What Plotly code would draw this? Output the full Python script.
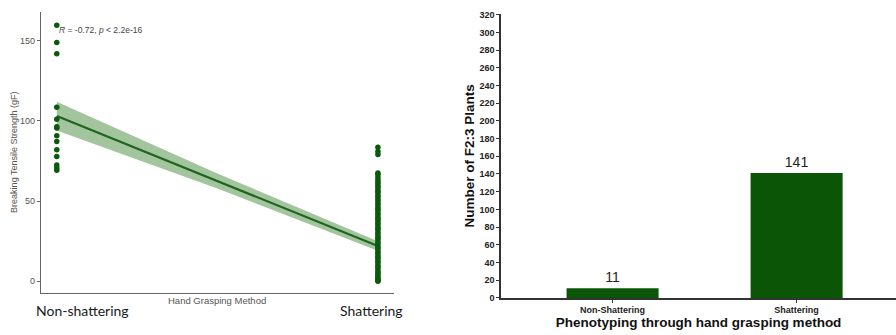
import plotly.graph_objects as go

# Scatter: breaking tensile strength (gF) by hand-grasping class
non_shattering_gf = [159.6, 148.9, 141.8, 108.5, 101, 96.4, 95.5, 90.7, 87.1, 82, 77.8, 72.5, 70.7, 69.3]
shattering_gf = [83.5, 81, 79, 67.5, 66.8, 65, 63.5, 62, 61, 59.5, 58.5, 57, 56, 55.2, 53.5, 52.5, 51,
                 50, 48.5, 47.5, 46, 45, 44, 42.5, 41.5, 40, 39, 38, 36.5, 35.5, 34, 33, 32, 30.5, 29.5,
                 28, 27, 26, 24.5, 23.5, 22, 21, 20, 18.5, 17.5, 16, 15, 14, 12.5, 11.5, 10, 9, 8, 6.5,
                 5.5, 4.5, 3.5, 2.5, 1.5, 1, 0.5, 0]

# Linear fit with 95% confidence band, at class positions 0, 0.5, 1
fit_x = [0, 0.5, 1]
fit_y = [103, 62.5, 22]
fit_lo = [94, 57.8, 19]
fit_hi = [112, 67.2, 25]

strength_ticks = [0, 50, 100, 150]
class_labels = ["Non-shattering", "Shattering"]
stat_text = "<i>R</i> = -0.72, <i>p</i> < 2.2e-16"

# Bar chart: counts of F2:3 plants per phenotype
phenotypes = ["Non-Shattering", "Shattering"]
plant_counts = [11, 141]

GREEN_DOT = "#0b5a0b"
GREEN_LINE = "#216421"
BAND = "rgba(88,150,78,0.55)"
BAR = "#0b5507"

fig = go.Figure()

fig.add_trace(go.Scatter(x=fit_x, y=fit_hi, mode="lines", line=dict(width=0),
                         hoverinfo="skip", showlegend=False, xaxis="x", yaxis="y"))
fig.add_trace(go.Scatter(x=fit_x, y=fit_lo, mode="lines", line=dict(width=0),
                         fill="tonexty", fillcolor=BAND,
                         hoverinfo="skip", showlegend=False, xaxis="x", yaxis="y"))
fig.add_trace(go.Scatter(x=fit_x, y=fit_y, mode="lines", line=dict(color=GREEN_LINE, width=2.2),
                         showlegend=False, xaxis="x", yaxis="y"))
fig.add_trace(go.Scatter(x=[0] * len(non_shattering_gf) + [1] * len(shattering_gf),
                         y=non_shattering_gf + shattering_gf, mode="markers",
                         marker=dict(color=GREEN_DOT, size=5.5),
                         showlegend=False, xaxis="x", yaxis="y"))

fig.add_trace(go.Bar(x=[0, 1], y=plant_counts, width=0.5, marker=dict(color=BAR, line=dict(width=0)),
                     text=[str(v) for v in plant_counts], textposition="outside",
                     textfont=dict(family="Liberation Sans", size=14, color="#222"),
                     cliponaxis=False, showlegend=False, xaxis="x2", yaxis="y2"))

fig.update_layout(
    width=896, height=335,
    margin=dict(l=0, r=0, t=0, b=0),
    paper_bgcolor="white", plot_bgcolor="white",
    font=dict(family="Liberation Sans", color="#444"),
    xaxis=dict(domain=[0.0458, 0.4397], range=[-0.049, 1.05], anchor="y",
               showgrid=False, zeroline=False,
               showline=True, linecolor="#666", linewidth=1.2, showticklabels=False, ticks=""),
    yaxis=dict(domain=[0.1134, 0.976], range=[-7.3, 168], anchor="x",
               showgrid=False, zeroline=False,
               showline=True, linecolor="#666", linewidth=1.2, ticks="outside", ticklen=3,
               tickcolor="#666", tickvals=strength_ticks, tickfont=dict(size=9, color="#555")),
    xaxis2=dict(domain=[0.5592, 1.0], range=[-0.606, 1.54], anchor="y2",
                showgrid=False, zeroline=False,
                showline=True, linecolor="#333", linewidth=1.5, ticks="outside", ticklen=3,
                tickcolor="#333", tickvals=[0, 1], ticktext=["<b>%s</b>" % p for p in phenotypes],
                tickfont=dict(size=9, color="#222", family="Liberation Sans"),
                title=dict(text="<b>Phenotyping through hand grasping method</b>", standoff=1,
                           font=dict(size=13.5, color="#111"))),
    yaxis2=dict(domain=[0.0985, 0.970], range=[0, 321], anchor="x2",
                showgrid=False, zeroline=False,
                showline=True, linecolor="#333", linewidth=1.5, ticks="outside", ticklen=3,
                tickcolor="#333", dtick=20, tickfont=dict(size=9, color="#222"),
                tickprefix="<b>", ticksuffix="</b>",
                title=dict(text="<b>Number of F2:3 Plants</b>", standoff=2,
                           font=dict(size=13.5, color="#111"))),
)

annotations = [
    dict(text=stat_text, x=57, y=27, xanchor="left",
         font=dict(size=8.5, color="#444")),
    dict(text="Breaking Tensile Strength (gF)", x=14, y=153, textangle=-90,
         font=dict(size=9, color="#555")),
    dict(text="Hand Grasping Method", x=217, y=305, font=dict(size=9.5, color="#555")),
    dict(text=class_labels[0], x=82, y=315, font=dict(family="Lato", size=14, color="#1a1a1a")),
    dict(text=class_labels[1], x=371, y=315, font=dict(family="Lato", size=14, color="#1a1a1a")),
]
for a in annotations:
    a["x"] = a["x"] / 896
    a["y"] = 1 - a["y"] / 335
    a.setdefault("xanchor", "center")
    a.setdefault("yanchor", "middle")
    a["xref"] = "paper"
    a["yref"] = "paper"
    a["showarrow"] = False
    fig.add_annotation(**a)

fig.write_html("out.html")
